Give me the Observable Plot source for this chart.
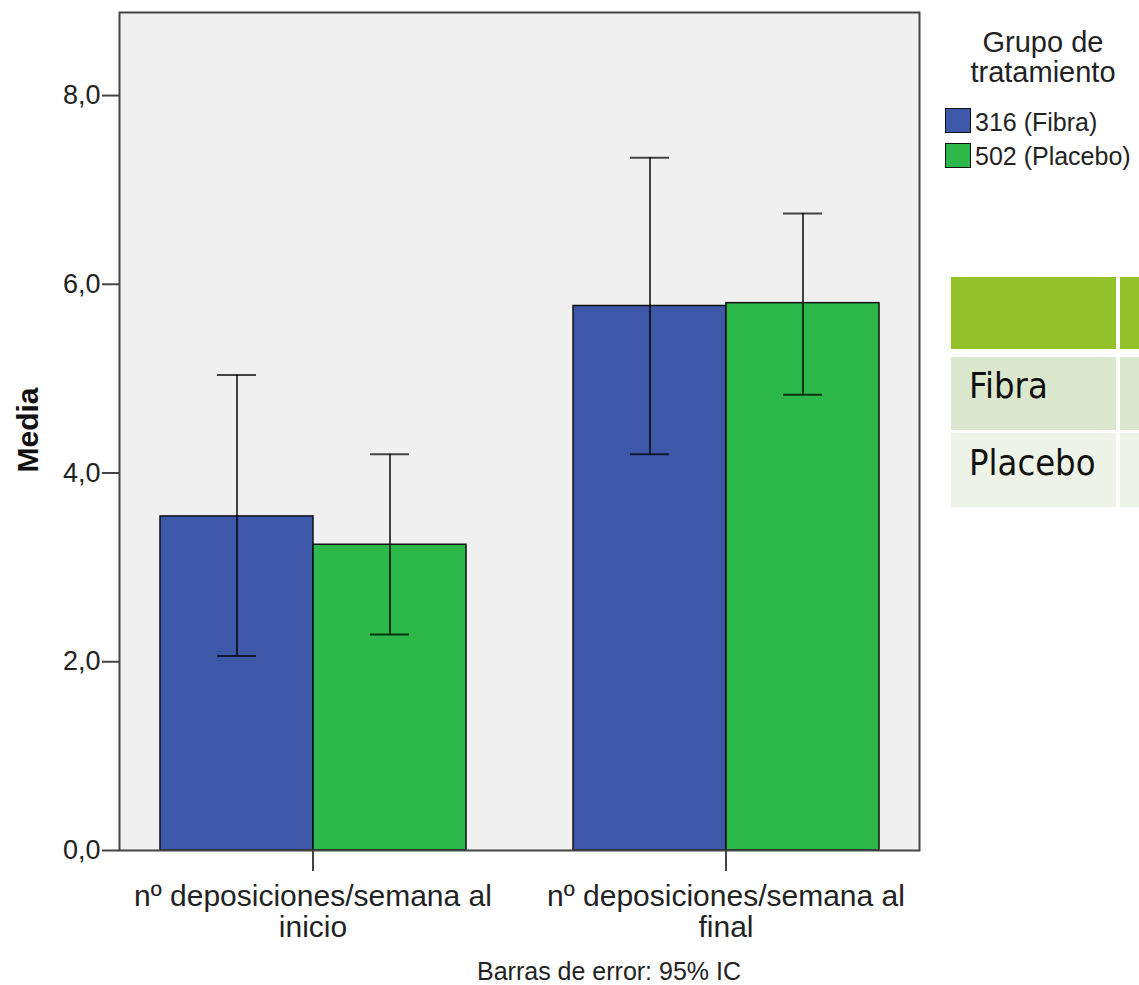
<!DOCTYPE html>
<html>
<head>
<meta charset="utf-8">
<script src="https://cdn.jsdelivr.net/npm/d3@7"></script>
<script src="https://cdn.jsdelivr.net/npm/@observablehq/plot@0.6"></script>
<style>
  html, body { margin: 0; padding: 0; background: #fff; }
  #wrap { position: relative; width: 1139px; height: 985px; overflow: hidden; font-family: "Liberation Sans", Arial, sans-serif; color: #222; }
  #chart { position: absolute; left: 0; top: 0; }
  .abs { position: absolute; white-space: nowrap; }
  .cell { position: absolute; }
</style>
</head>
<body>
<div id="wrap">
  <div id="chart"></div>
</div>
<script>
// ---- data ----
const categories = ["nº deposiciones/semana al\ninicio", "nº deposiciones/semana al\nfinal"];
const groups = ["316 (Fibra)", "502 (Placebo)"];
const groupColors = ["#3d58a9", "#2db84a"];
const fibraMean = [3.54, 5.77];
const fibraLo = [2.06, 4.20];
const fibraHi = [5.04, 7.34];
const placeboMean = [3.24, 5.80];
const placeboLo = [2.29, 4.83];
const placeboHi = [4.20, 6.75];
const yTicks = [0, 2, 4, 6, 8];
const yMax = 8.88;
const legendTitle = ["Grupo de", "tratamiento"];
const caption = "Barras de error: 95% IC";
const yLabel = "Media";
const tableRows = ["Fibra", "Placebo"];

const data = [];
categories.forEach((c, i) => {
  data.push({category: c, group: groups[0], mean: fibraMean[i], lo: fibraLo[i], hi: fibraHi[i]});
  data.push({category: c, group: groups[1], mean: placeboMean[i], lo: placeboLo[i], hi: placeboHi[i]});
});

const fmt = d => d3.format(".1f")(d).replace(".", ",");

const plot = Plot.plot({
  width: 930,
  height: 950,
  marginLeft: 118,
  marginRight: 10,
  marginTop: 12,
  marginBottom: 100,
  style: {fontFamily: "'Liberation Sans', Arial, sans-serif", color: "#222", background: "transparent"},
  fx: {domain: categories, paddingInner: 0.0628, paddingOuter: 0, label: null},
  x: {domain: groups, paddingInner: 0, paddingOuter: 0.264, axis: null},
  y: {domain: [0, yMax]},
  color: {domain: groups, range: groupColors},
  marks: [
    Plot.frame({fill: "#f0f0f0", facet: "super"}),
    Plot.barY(data, {fx: "category", x: "group", y: "mean", fill: "group", stroke: "#111", strokeWidth: 1.5}),
    Plot.ruleX(data, {fx: "category", x: "group", y1: "lo", y2: "hi", stroke: "#000", strokeOpacity: 0.72, strokeWidth: 2}),
    Plot.tickY(data, {fx: "category", x: "group", y: "hi", insetLeft: 57, insetRight: 57, stroke: "#000", strokeOpacity: 0.72, strokeWidth: 2}),
    Plot.tickY(data, {fx: "category", x: "group", y: "lo", insetLeft: 57, insetRight: 57, stroke: "#000", strokeOpacity: 0.72, strokeWidth: 2}),
    Plot.frame({stroke: "#444", strokeWidth: 2, facet: "super"}),
    Plot.axisY({ticks: yTicks, tickFormat: fmt, tickSize: 17, tickPadding: 2, fontSize: 27, label: null, stroke: "#444", strokeWidth: 2}),
    Plot.axisFx({anchor: "bottom", tickSize: 21, tickPadding: 12, fontSize: 30, lineHeight: 1.04, label: null, stroke: "#444", strokeWidth: 2, tickFormat: d => d})
  ]
});
document.getElementById("chart").appendChild(plot);

const wrap = document.getElementById("wrap");
function addDiv(cls, css, text) {
  const d = document.createElement("div");
  d.className = cls;
  Object.assign(d.style, css);
  if (text != null) d.textContent = text;
  wrap.appendChild(d);
  return d;
}

// y label
addDiv("abs", {left: "28px", top: "430px", fontSize: "30px", fontWeight: "bold", lineHeight: "30px", color: "#111",
  transform: "translate(-50%, -50%) rotate(-90deg)"}, yLabel);

// caption
addDiv("abs", {left: "409px", width: "400px", textAlign: "center", top: "960px", fontSize: "25px", lineHeight: "22px"}, caption);

// legend title
addDiv("abs", {left: "943px", width: "200px", textAlign: "center", top: "27px", fontSize: "29px", lineHeight: "30px", whiteSpace: "pre"}, legendTitle.join("\n"));

// legend items
groups.forEach((g, i) => {
  addDiv("cell", {left: "945px", top: (108 + i * 35) + "px", width: "24px", height: "23px", background: groupColors[i], border: "1.5px solid #111"});
  addDiv("abs", {left: "975px", top: (110 + i * 34) + "px", fontSize: "25px", lineHeight: "25px"}, g);
});

// side table (partially visible)
const hdr = "#92c12a";
const rowColors = ["#dbe8cd", "#edf3e7"];
addDiv("cell", {left: "951px", top: "277px", width: "165px", height: "72px", background: hdr});
addDiv("cell", {left: "1120px", top: "277px", width: "30px", height: "72px", background: hdr});
tableRows.forEach((t, i) => {
  const top = i === 0 ? 357 : 433;
  const h = i === 0 ? 73 : 74;
  addDiv("cell", {left: "951px", top: top + "px", width: "165px", height: h + "px", background: rowColors[i]});
  addDiv("cell", {left: "1120px", top: top + "px", width: "30px", height: h + "px", background: rowColors[i]});
  addDiv("abs", {left: "969px", top: (i === 0 ? 368 : 445) + "px", fontSize: "36px", lineHeight: "36px", color: "#111",
    fontFamily: "'DejaVu Sans Condensed', 'DejaVu Sans', sans-serif"}, t);
});
</script>
</body>
</html>
